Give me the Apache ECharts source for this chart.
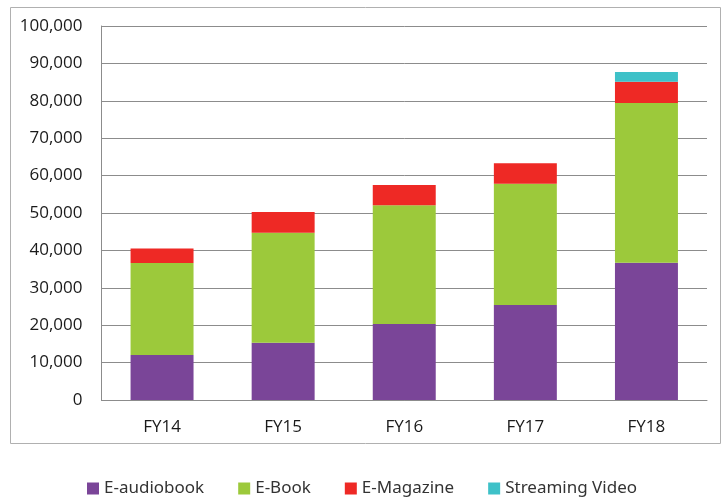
<!DOCTYPE html>
<html lang="en">
<head>
    <meta charset="utf-8">
    <script src="https://cdn.jsdelivr.net/npm/echarts@6/dist/echarts.min.js"></script>
    <title>Digital circulation FY14-FY18</title>
    <style>
        html, body { margin: 0; padding: 0; background: #fff; }
        #main { width: 724px; height: 497px; }
    </style>
</head>
<body>
<div id="main"></div>
<script type="text/javascript">
    // values
    var years = ['FY14', 'FY15', 'FY16', 'FY17', 'FY18'];
    var eAudiobook = [12000, 15300, 20300, 25400, 36700];
    var eBook = [24600, 29400, 31800, 32400, 42700];
    var eMagazine = [3900, 5600, 5400, 5500, 5700];
    var streamingVideo = [0, 0, 0, 0, 2600];

    var myChart = echarts.init(document.getElementById('main'), null, {renderer: 'canvas'});

    function bar(name, data, color) {
        return {
            name: name,
            type: 'bar',
            stack: 'total',
            barWidth: '52%',
            data: data,
            itemStyle: {color: color}
        };
    }

    var option = {
        animation: false,
        textStyle: {fontFamily: 'Open Sans'},
        graphic: [{
            type: 'rect',
            shape: {x: 10.5, y: 7.5, width: 710, height: 436},
            style: {fill: 'none', stroke: '#b0b0b0', lineWidth: 1},
            silent: true
        }],
        grid: {left: 101.5, right: 17, top: 26, bottom: 97},
        legend: {
            top: 475,
            left: 'center',
            icon: 'rect',
            itemWidth: 12,
            itemHeight: 12,
            itemGap: 34,
            textStyle: {fontSize: 17, color: '#333', fontFamily: 'Noto Sans'},
            data: ['E-audiobook', 'E-Book', 'E-Magazine', 'Streaming Video']
        },
        xAxis: {
            type: 'category',
            data: years,
            axisTick: {show: false},
            axisLine: {lineStyle: {color: '#8c8c8c', width: 1}},
            axisLabel: {color: '#1a1a1a', fontSize: 17, margin: 19}
        },
        yAxis: {
            type: 'value',
            min: 0,
            max: 100000,
            interval: 10000,
            axisLine: {show: true, lineStyle: {color: '#8c8c8c', width: 1}},
            axisTick: {show: false},
            splitLine: {lineStyle: {color: '#8c8c8c', width: 1}},
            axisLabel: {
                color: '#1a1a1a',
                fontSize: 17,
                margin: 19,
                formatter: function (v) { return v.toLocaleString('en-US'); }
            }
        },
        series: [
            bar('E-audiobook', eAudiobook, '#7a4598'),
            bar('E-Book', eBook, '#9cc93b'),
            bar('E-Magazine', eMagazine, '#ee2925'),
            bar('Streaming Video', streamingVideo, '#3ec1c8')
        ]
    };

    myChart.setOption(option);
</script>
</body>
</html>
